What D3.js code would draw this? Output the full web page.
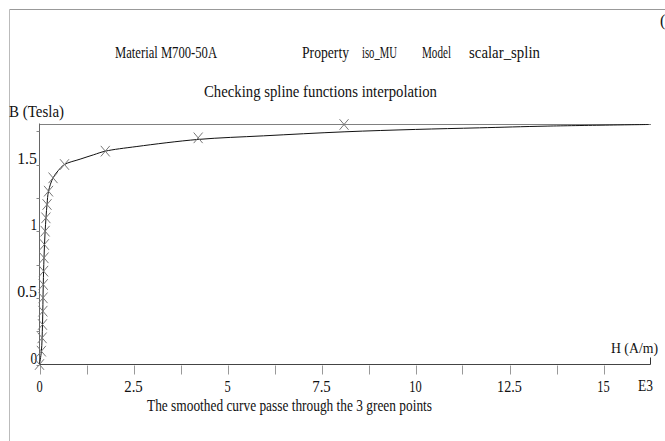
<!DOCTYPE html>
<html><head><meta charset="utf-8">
<script src="https://cdn.jsdelivr.net/npm/d3@7"></script>
<style>body{margin:0;background:#fff}svg{display:block}text{font-family:"Liberation Serif","DejaVu Serif",serif;fill:#111}</style>
</head><body>
<script>
// measured points (H in kA/m, B in Tesla)
const pointH = [0,0.05,0.07,0.08,0.09,0.095,0.1,0.11,0.12,0.13,0.15,0.17,0.2,0.24,0.36,0.665,1.75,4.22,8.1];
const pointB = [0,0.1,0.2,0.3,0.4,0.5,0.6,0.7,0.8,0.9,1.0,1.1,1.2,1.3,1.4,1.5,1.6,1.7,1.8];
// smoothed curve
const curveH = [0,0.05,0.08,0.1,0.12,0.15,0.2,0.24,0.36,0.5,0.665,1.08,1.44,1.75,2.59,4.22,5.96,8.1,10,11.7,13.5,16.2];
const curveB = [0,0.1,0.3,0.6,0.8,1.0,1.2,1.3,1.4,1.455,1.5,1.54,1.573,1.6,1.635,1.688,1.715,1.745,1.763,1.775,1.788,1.80];
const xTicks = [0,1.25,2.5,3.75,5,6.25,7.5,8.75,10,11.25,12.5,13.75,15];
const xLabels = [0,2.5,5,7.5,10,12.5,15];
const yTicks = [0,0.25,0.5,0.75,1,1.25,1.5,1.75];
const yLabels = [0,0.5,1,1.5];
const bMax = 1.8;

const W=665,H=441;
const svg=d3.select("body").append("svg").attr("width",W).attr("height",H);
svg.append("rect").attr("width",W).attr("height",H).attr("fill","#fff");
// frame
svg.append("line").attr("x1",9.5).attr("x2",W).attr("y1",9.5).attr("y2",9.5).attr("stroke","#999");
svg.append("line").attr("x1",9.5).attr("x2",9.5).attr("y1",9.5).attr("y2",H).attr("stroke","#bbb");
svg.append("text").attr("x",660).attr("y",26).attr("font-size",16).text("(");

const x=d3.scaleLinear().domain([0,16.25]).range([39.5,650.5]);
const y=d3.scaleLinear().domain([0,bMax]).range([364.5,124.5]);

const FS=16.5;
function t(str,x0,yb,len,fs){
  svg.append("text").attr("x",x0).attr("y",yb).attr("font-size",fs||FS)
   .attr("textLength",len).attr("lengthAdjust","spacingAndGlyphs").text(str);
}
t("Material M700-50A",115,58,102);
t("Property",302,58,47);
t("iso_MU",362,58,35);
t("Model",422,58,29);
t("scalar_splin",469,58,71);
t("Checking spline functions interpolation",204,97,233);
t("B (Tesla)",9,117,55);
t("H (A/m)",611,353,47,15.5);
t("The smoothed curve passe through the 3 green points",147,411,285);

// dotted limit line
svg.append("line").attr("x1",x(0)).attr("x2",x(16.25)).attr("y1",y(bMax)).attr("y2",y(bMax))
  .attr("stroke","#000").attr("stroke-dasharray","1,1");

// axes
svg.append("line").attr("x1",x(0)).attr("x2",x(16.25)).attr("y1",y(0)).attr("y2",y(0)).attr("stroke","#444");
svg.append("line").attr("x1",x(0)).attr("x2",x(0)).attr("y1",y(0)).attr("y2",y(bMax)-1).attr("stroke","#666");
svg.selectAll(".xt").data(xTicks).enter().append("line")
  .attr("x1",d=>Math.round(x(d))+0.5).attr("x2",d=>Math.round(x(d))+0.5)
  .attr("y1",y(0)+1).attr("y2",y(0)+10).attr("stroke","#999");
svg.append("line").attr("x1",x(16.25)).attr("x2",x(16.25)).attr("y1",y(0)).attr("y2",y(0)-7).attr("stroke","#333");
svg.selectAll(".yt").data(yTicks).enter().append("line")
  .attr("x1",x(0)-3).attr("x2",x(0))
  .attr("y1",d=>Math.round(y(d))+0.5).attr("y2",d=>Math.round(y(d))+0.5).attr("stroke","#888");
svg.selectAll(".xl").data(xLabels).enter().append("text")
  .attr("x",d=>x(d)).attr("y",392).attr("text-anchor","middle").attr("font-size",FS)
  .attr("textLength",d=>String(d).length*6.2).attr("lengthAdjust","spacingAndGlyphs").text(d=>String(d));
svg.append("text").attr("x",638).attr("y",391).attr("font-size",FS)
  .attr("textLength",15).attr("lengthAdjust","spacingAndGlyphs").text("E3");
svg.selectAll(".yl").data(yLabels).enter().append("text")
  .attr("x",37).attr("y",d=>y(d)-1).attr("text-anchor","end").attr("font-size",FS)
  .attr("textLength",d=>String(d).length*6.6).attr("lengthAdjust","spacingAndGlyphs").text(d=>String(d));

// curve
const pts=curveH.map((h,i)=>[h,curveB[i]]);
svg.append("path").datum(pts)
  .attr("d",d3.line().x(d=>x(d[0])).y(d=>y(d[1])).curve(d3.curveCatmullRom.alpha(0.5)))
  .attr("fill","none").attr("stroke","#111").attr("stroke-width",1);

// markers
const mk=pointH.map((h,i)=>[x(h),y(pointB[i])]);
const g=svg.append("g").attr("stroke","#777").attr("stroke-width",1).attr("fill","none");
g.selectAll("path").data(mk).enter().append("path")
  .attr("d",d=>`M${d[0]-4.5},${d[1]-5.3}L${d[0]+4.5},${d[1]+5.3}M${d[0]-4.5},${d[1]+5.3}L${d[0]+4.5},${d[1]-5.3}`);
</script>
</body></html>
